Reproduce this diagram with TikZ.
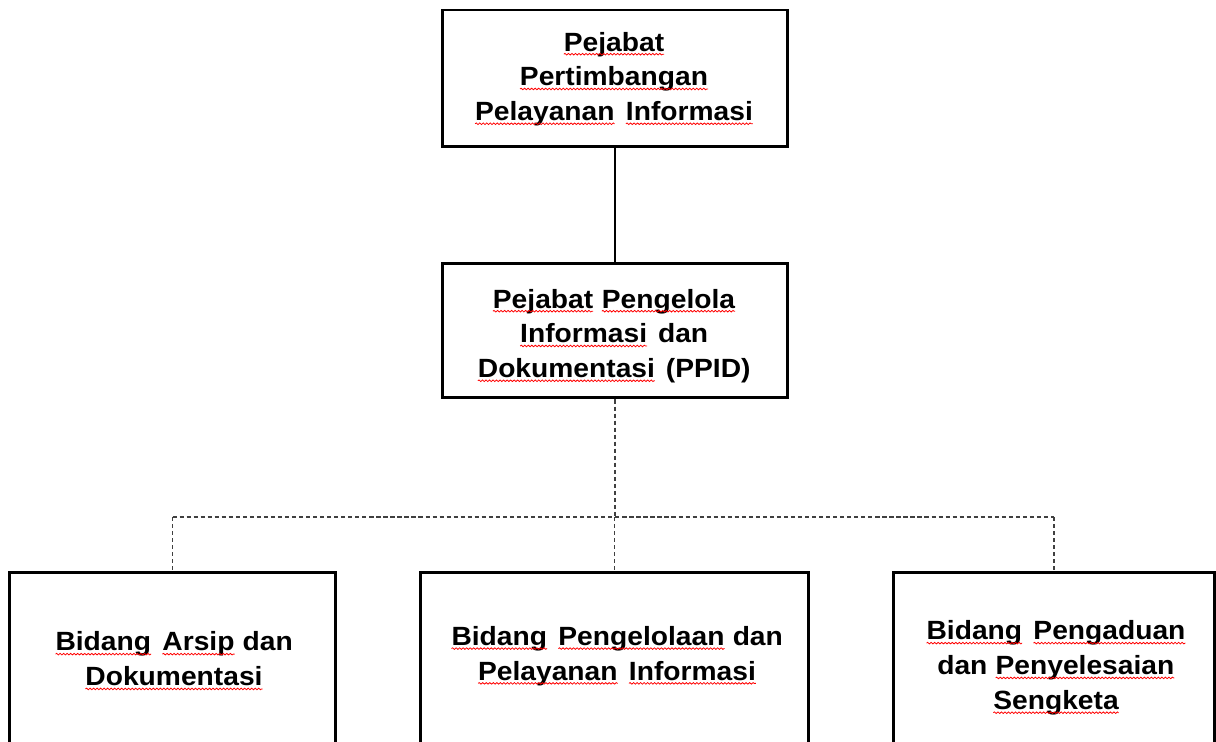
\documentclass[tikz,border=0pt]{standalone}
\usepackage{fontspec}
\setmainfont{Liberation Sans}[FakeStretch=1.07]
\usetikzlibrary{decorations.pathmorphing}
\newcommand\rw[1]{\tikz[baseline=(w.base), x=1cm, y=1cm]{\node[inner sep=0pt, outer sep=0pt, align=left] (w) {#1};\draw[red, line width=0.45pt, decorate, decoration={snake, amplitude=0.45pt, segment length=2pt}] ([yshift=-1.8pt]w.base west) -- ([yshift=-1.8pt]w.base east);}}
\newcommand\wsp{\hspace{0.4em}}
\tikzset{
  box/.style={draw=black, line width=1.7pt, fill=white, rectangle, inner sep=0pt},
  lbl/.style={align=center, font=\fontsize{15}{19.8}\selectfont\bfseries, inner sep=0pt},
  solidconn/.style={draw=black, line width=0.8pt},
  dashconn/.style={draw=black!75, line width=0.6pt, dash pattern=on 2.4pt off 1.6pt}
}
\begin{document}
\begin{tikzpicture}[x=0.02cm, y=-0.02cm]
\useasboundingbox (0,0) rectangle (1216,742);
\clip (0,0) rectangle (1216,742);
\fill[white] (0,0) rectangle (1216,742);
% boxes
\node[box, minimum width=6.92cm, minimum height=2.74cm] (top) at (615,78.5) {};
\node[box, minimum width=6.92cm, minimum height=2.7cm] (mid) at (615,330.5) {};
\node[box, minimum width=6.54cm, minimum height=4.56cm] (bl) at (172.5,686) {};
\node[box, minimum width=7.78cm, minimum height=4.56cm] (bm) at (614.5,686) {};
\node[box, minimum width=6.44cm, minimum height=4.56cm] (br) at (1054,686) {};
% connectors
\coordinate (bus) at (614,517);
\draw[solidconn] (top.south) -- (mid.north);
\draw[dashconn] (mid.south) -- (mid.south |- bus);
\draw[dashconn] (bl.north |- bus) -- (br.north |- bus);
\draw[dashconn] (bl.north |- bus) -- (bl.north);
\draw[dashconn] (bm.north |- bus) -- (bm.north);
\draw[dashconn] (br.north |- bus) -- (br.north);
% labels
\node[lbl] (ttop) at (614,79) {\rw{Pejabat}\\ \rw{Pertimbangan}\\ \rw{Pelayanan}\wsp\rw{Informasi}};
\node[lbl] (tmid) at (614,336) {\rw{Pejabat} \rw{Pengelola}\\ \rw{Informasi}\wsp dan\\ \rw{Dokumentasi}\wsp(PPID)};
\node[lbl] (tbl) at (174,661) {\rw{Bidang}\wsp\rw{Arsip} dan\\ \rw{Dokumentasi}};
\node[lbl] (tbm) at (617,656) {\rw{Bidang}\wsp\rw{Pengelolaan} dan\\ \rw{Pelayanan}\wsp\rw{Informasi}};
\node[lbl] (tbr) at (1056,668) {\rw{Bidang}\wsp\rw{Pengaduan}\\ dan \rw{Penyelesaian}\\ \rw{Sengketa}};
\end{tikzpicture}
\end{document}
